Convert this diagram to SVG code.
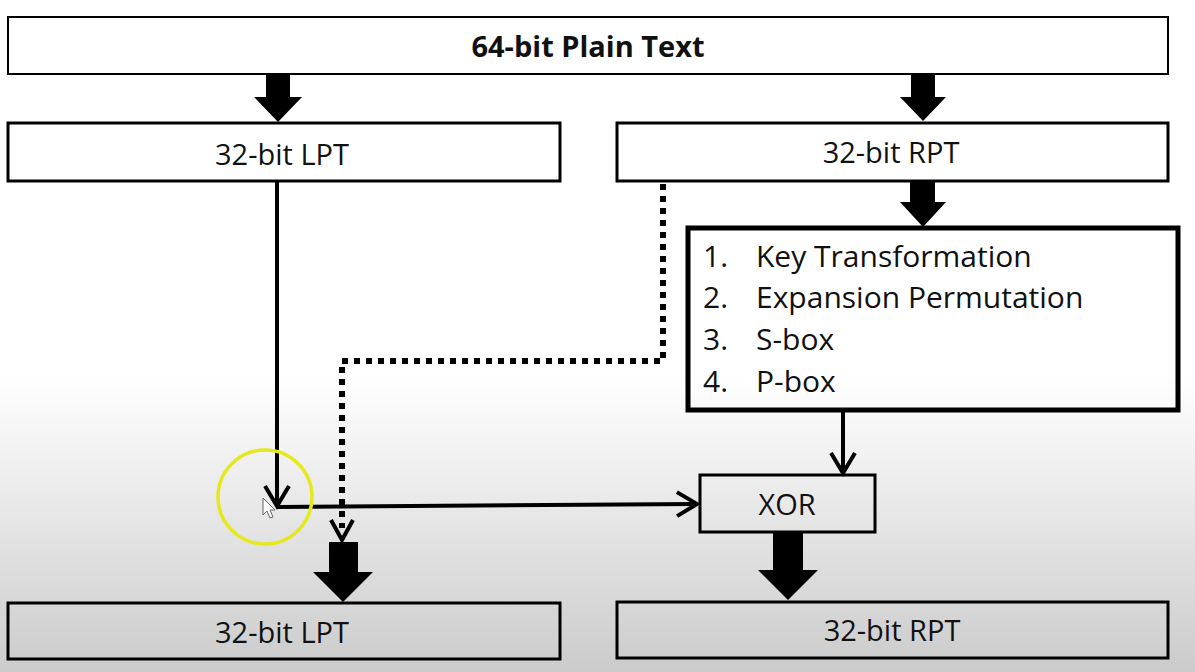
<svg xmlns="http://www.w3.org/2000/svg" width="1195" height="672" viewBox="0 0 1195 672">
  <defs>
    <linearGradient id="bg" x1="0" y1="0" x2="0" y2="672" gradientUnits="userSpaceOnUse">
      <stop offset="0" stop-color="#ffffff"/>
      <stop offset="0.56" stop-color="#ffffff"/>
      <stop offset="1" stop-color="#cbcbcb"/>
    </linearGradient>
    <marker id="chev" viewBox="-24 -16 28 32" refX="0" refY="0" markerWidth="28" markerHeight="32" markerUnits="userSpaceOnUse" orient="auto">
      <path d="M -20 -12 L 0 0 L -20 12" fill="none" stroke="#000" stroke-width="4" stroke-linejoin="miter"/>
    </marker>
    <style>
      .box { fill: none; stroke: #000; stroke-width: 3; }
      .thin { stroke-width: 2; }
      .thick { stroke-width: 5; }
      .lbl { font-family: "Open Sans", "Noto Sans", "Liberation Sans", sans-serif; font-size: 29px; fill: #111; }
      .item { font-size: 30px; }
      .mid { text-anchor: middle; }
      .bold { font-weight: bold; }
      .line { fill: none; stroke: #000; stroke-width: 4; marker-end: url(#chev); }
      .dots { fill: none; stroke: #000; stroke-width: 6; stroke-dasharray: 6 6; }
      .block { fill: #000; stroke: none; }
    </style>
  </defs>

  <rect x="0" y="0" width="1195" height="672" fill="url(#bg)"/>

  <g id="connectors">
    <!-- block arrows -->
    <polygon class="block" points="266,74 290,74 290,97 302,97 278,122 254,97 266,97"/>
    <polygon class="block" points="911,74 935,74 935,97 946,97 923,121 900,97 911,97"/>
    <polygon class="block" points="910,182 935,182 935,202 946,202 923,227 900,202 910,202"/>
    <polygon class="block" points="329,542 358,542 358,572 373,572 343,602 313,572 329,572"/>
    <polygon class="block" points="773,533 803,533 803,570 818,570 788,600 758,570 773,570"/>
    <!-- LPT down then to XOR -->
    <path class="line" d="M 277 182 L 277 506"/>
    <path class="line" d="M 277 507 L 697 504"/>
    <!-- process box to XOR -->
    <path class="line" d="M 843 412 L 843 473"/>
    <!-- dotted path from RPT to bottom LPT -->
    <path class="dots" d="M 663 184 L 663 361 L 342 361 L 342 528"/>
    <path d="M 331 520 L 342 540 L 353 520" fill="none" stroke="#000" stroke-width="4"/>
  </g>

  <g id="plain-text">
    <rect class="box thin" x="8" y="17" width="1160" height="57"/>
    <text class="lbl mid bold" x="588" y="57">64-bit Plain Text</text>
  </g>

  <g id="lpt-top">
    <rect class="box" x="8" y="123" width="552" height="58"/>
    <text class="lbl mid" x="282" y="165">32-bit LPT</text>
  </g>

  <g id="rpt-top">
    <rect class="box" x="617" y="123" width="551" height="58"/>
    <text class="lbl mid" x="891" y="163">32-bit RPT</text>
  </g>

  <g id="round-function">
    <rect class="box thick" x="688" y="228" width="490" height="182"/>
    <text class="lbl item" x="703" y="267">1.</text>
    <text class="lbl item" x="756" y="267">Key Transformation</text>
    <text class="lbl item" x="703" y="308">2.</text>
    <text class="lbl item" x="756" y="308">Expansion Permutation</text>
    <text class="lbl item" x="703" y="350">3.</text>
    <text class="lbl item" x="756" y="350">S-box</text>
    <text class="lbl item" x="703" y="392">4.</text>
    <text class="lbl item" x="756" y="392">P-box</text>
  </g>

  <g id="xor">
    <rect class="box" x="700" y="475" width="175" height="57"/>
    <text class="lbl mid" x="787" y="515">XOR</text>
  </g>

  <g id="lpt-bottom">
    <rect class="box" x="8" y="603" width="552" height="56"/>
    <text class="lbl mid" x="282" y="643">32-bit LPT</text>
  </g>

  <g id="rpt-bottom">
    <rect class="box" x="617" y="602" width="551" height="56"/>
    <text class="lbl mid" x="892" y="641">32-bit RPT</text>
  </g>

  <g id="highlight">
    <circle cx="265" cy="497" r="47" fill="none" stroke="#e6e81e" stroke-width="3.5"/>
    <path d="M 263 498 L 263 515 L 267 511 L 270 518 L 273 517 L 270 510 L 275 510 Z" fill="#fff" stroke="#666" stroke-width="1"/>
  </g>
</svg>
